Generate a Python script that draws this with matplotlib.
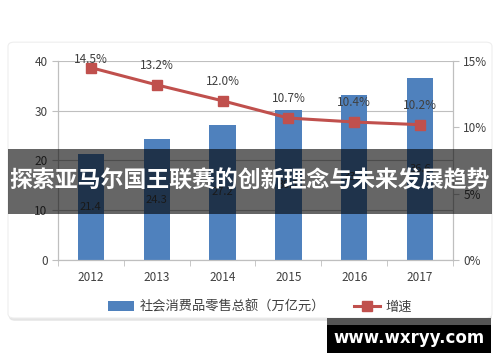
#!/usr/bin/env python3
"""retail_sales_growth.py"""

import matplotlib

matplotlib.use("Agg")
import matplotlib.pyplot as plt
from matplotlib.patches import FancyBboxPatch, Rectangle

plt.rcParams["font.family"] = ["Noto Sans CJK SC", "DejaVu Sans"]

years = ["2012", "2013", "2014", "2015", "2016", "2017"]
sales = [21.4, 24.3, 27.2, 30.1, 33.2, 36.6]
growth = [14.5, 13.2, 12.0, 10.7, 10.4, 10.2]

bar_name = "社会消费品零售总额（万亿元）"
line_name = "增速"
banner_text = "探索亚马尔国王联赛的创新理念与未来发展趋势"
site_text = "www.wxryy.com"

BLUE = "#4f81bd"
RED = "#c0504d"
GRID = "#bfbfbf"
TEXT = "#404040"


def plot(fig, ax):
    x = range(len(years))
    bars = ax.bar(x, sales, width=0.4, color=BLUE, zorder=2)
    ax.bar_label(bars, labels=[f"{v:.1f}" for v in sales], label_type="center",
                 color=TEXT, fontsize=8)
    ax.set_ylim(0, 40)
    ax.set_yticks([0, 10, 20, 30, 40])
    ax.set_xlim(-0.5, len(years) - 0.5)
    ax.set_xticks(list(x))
    ax.set_xticklabels(years)
    ax.set_xticks([i + 0.5 for i in range(-1, len(years))], minor=True)
    ax.tick_params(axis="x", which="major", length=0, pad=8)
    ax.tick_params(axis="x", which="minor", length=4, color=GRID)
    ax.tick_params(axis="y", length=4, color=GRID)
    ax.tick_params(labelsize=8.5, labelcolor=TEXT)
    ax.grid(axis="y", color=GRID, linewidth=0.8, zorder=0)
    ax.spines["top"].set_visible(False)
    for side in ["left", "right", "bottom"]:
        ax.spines[side].set_color(GRID)

    ax2 = ax.twinx()
    ax2.plot(x, growth, color=RED, linewidth=2.2, marker="s", markersize=7,
             zorder=3)
    # labels sit ~19px above the points, kept inside the plot area
    for i, g in enumerate(growth):
        ax2.text(i, min(g + 1.45, 15.1), f"{g:.1f}%", ha="center", va="center",
                 fontsize=8.5, color=TEXT, clip_on=False)
    ax2.set_ylim(0, 15)
    ax2.set_yticks([0, 5, 10, 15])
    ax2.set_yticklabels(["0%", "5%", "10%", "15%"])
    ax2.tick_params(axis="y", length=4, color=GRID, labelsize=8.5, labelcolor=TEXT)
    ax2.spines["top"].set_visible(False)
    for side in ["left", "right", "bottom"]:
        ax2.spines[side].set_color(GRID)

    handles = [bars, ax2.lines[0]]
    fig.legend(handles, [bar_name, line_name], loc="center", ncol=2,
               bbox_to_anchor=(0.52, 0.152), frameon=False, fontsize=9.5,
               handlelength=2.0, handletextpad=0.4, columnspacing=2.2,
               labelcolor=TEXT)


def main():
    fig = plt.figure(figsize=(5, 3.62), dpi=100)

    # card behind the chart
    shadow = FancyBboxPatch((0.018, 0.114), 0.966, 0.764,
                            boxstyle="round,pad=0,rounding_size=0.012",
                            transform=fig.transFigure, facecolor="#e4e4e4",
                            edgecolor="none", zorder=-2)
    card = FancyBboxPatch((0.016, 0.1215), 0.968, 0.762,
                          boxstyle="round,pad=0,rounding_size=0.012",
                          transform=fig.transFigure, facecolor="white",
                          edgecolor="#eeeeee", linewidth=0.8, zorder=-1)
    fig.patches.extend([shadow, card])

    ax = fig.add_axes([0.116, 0.2818, 0.79, 0.5497])
    ax.set_facecolor("none")
    plot(fig, ax)

    # overlay banner
    fig.patches.append(Rectangle((0.016, 0.409), 0.968, 0.18, transform=fig.transFigure,
                                 facecolor="black", alpha=0.6, zorder=10))
    fig.text(0.5, 0.499, banner_text, ha="center", va="center", color="white",
             fontsize=16.5, fontweight="bold", zorder=11)

    # watermark
    fig.patches.append(Rectangle((0.654, 0.1), 0.328, 0.022, transform=fig.transFigure,
                                 facecolor="#555555", zorder=10))
    fig.patches.append(Rectangle((0.654, 0.025), 0.328, 0.076, transform=fig.transFigure,
                                 facecolor="black", zorder=10))
    fig.text(0.818, 0.066, site_text, ha="center", va="center", color="white",
             fontsize=12, fontweight="bold", family=["DejaVu Sans"], zorder=11)

    fig.savefig("out.png", dpi=100)


if __name__ == "__main__":
    main()
